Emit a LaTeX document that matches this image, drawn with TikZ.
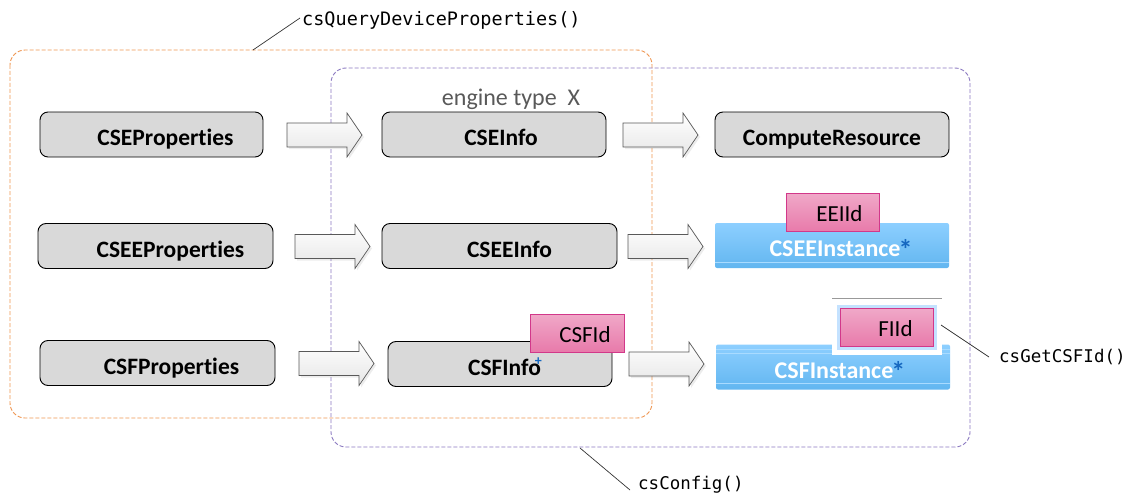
\documentclass[tikz,border=0pt]{standalone}
\usepackage{fontspec}
\setmainfont{Carlito}[RawFeature={-liga;-dlig;-clig}]
\setmonofont{DejaVu Sans Mono}
\usetikzlibrary{shadows}
\definecolor{boxgray}{HTML}{D9D9D9}
\definecolor{orangedash}{HTML}{EE9550}
\definecolor{purpledash}{HTML}{8A78C0}
\definecolor{bluetop}{HTML}{8DCFFF}
\definecolor{bluebot}{HTML}{62B6F0}
\definecolor{blueline}{HTML}{A9DBFF}
\definecolor{astblue}{HTML}{1668C0}
\definecolor{pinktop}{HTML}{F0A8C8}
\definecolor{pinkbot}{HTML}{E87AAA}
\definecolor{pinkborder}{HTML}{D2388A}
\definecolor{glow}{HTML}{C4E2FF}
\newcommand{\blockarrow}[2]{% #1 = left x, #2 = centre y
  \draw[blockarrowstyle] (#1,#2-12) -- ++(60,0) -- ++(0,-10) -- ++(15,22) -- ++(-15,22) -- ++(0,-10) -- ++(-60,0) -- cycle;}
\newcommand{\bluestar}{\kern-2pt\raisebox{-3pt}{\textcolor{astblue}{\fontsize{28}{28}\selectfont\bfseries *}}}
\begin{document}
\begin{tikzpicture}[x=1pt,y=-1pt,
  graybox/.style={draw=black, line width=0.9pt, rounded corners=8pt, fill=boxgray,
    font=\fontsize{23.5}{26}\selectfont\bfseries, minimum height=45pt, inner sep=0pt,
    text height=22pt, text depth=0pt},
  bluebox/.style={rounded corners=2pt, top color=bluetop, bottom color=bluebot,
    text=white, font=\fontsize{24}{26}\selectfont\bfseries, minimum height=45pt, inner sep=0pt,
    text height=22pt, text depth=0pt},
  pinkbox/.style={draw=pinkborder, line width=0.9pt, top color=pinktop, bottom color=pinkbot,
    font=\fontsize{23}{26}\selectfont, minimum height=38pt, inner sep=0pt,
    text height=18pt, text depth=0pt},
  blockarrowstyle/.style={draw=black!65, line width=0.7pt, top color=white, bottom color=black!10,
    drop shadow={opacity=0.15, shadow xshift=2pt, shadow yshift=-2pt}},
  groupbox/.style={dash pattern=on 4pt off 2pt, line width=0.9pt, rounded corners=15pt},
  apilabel/.style={font=\ttfamily\fontsize{17.5}{22}\selectfont, anchor=west, inner sep=0pt},
  callout/.style={draw=black!80, line width=0.7pt}
]
\useasboundingbox (0,0) rectangle (1128,495);

% group frames
\draw[groupbox, draw=orangedash] (10,50) rectangle (652,418);
\draw[groupbox, draw=purpledash] (331,68) rectangle (970,447);

\node[font=\fontsize{24}{26}\selectfont, text=black!65, inner sep=0pt] (etype) at (511,99) {engine type\ \ X};

% row 1
\node[graybox, minimum width=223pt] (cseprop) at (151.5,134.5) {\hspace*{28pt}CSEProperties};
\blockarrow{287}{135}
\node[graybox, minimum width=224pt] (cseinfo) at (494,134.5) {\hspace*{14pt}CSEInfo};
\blockarrow{623}{135}
\node[graybox, minimum width=234pt] (compres) at (832,134.5) {ComputeResource};

% row 2
\node[graybox, minimum width=235pt] (cseeprop) at (155.5,246) {\hspace*{30pt}CSEEProperties};
\blockarrow{295}{246.5}
\node[graybox, minimum width=235pt] (cseeinfo) at (499.5,246) {\hspace*{20pt}CSEEInfo};
\blockarrow{628}{246.5}
\node[bluebox, minimum width=234pt] (cseeinst) at (832,245.5) {\hspace*{18pt}CSEEInstance\bluestar};
\draw[blueline, line width=0.6pt] (cseeinst.south west) ++(0,-6) -- ++(234,0);
\node[pinkbox, minimum width=93pt] (eeiid) at (832.5,212.5) {\hspace*{14pt}EEIId};

% row 3
\node[graybox, minimum width=235pt] (csfprop) at (157.5,363) {\hspace*{28pt}CSFProperties};
\blockarrow{299}{363.5}
\node[graybox, minimum width=224pt] (csfinfo) at (500,364) {\hspace*{10pt}CSFInfo\kern-6pt\raisebox{10pt}{\textcolor{astblue}{\fontsize{14}{14}\selectfont\bfseries +}}};
\node[pinkbox, minimum width=94pt] (csfid) at (577,333) {\hspace*{16pt}CSFId};
\blockarrow{629}{364}
\node[bluebox, minimum width=234pt] (csfinst) at (833,367) {\hspace*{14pt}CSFInstance\bluestar};
\draw[blueline, line width=0.6pt] (csfinst.north west) ++(0,5) -- ++(234,0);
\draw[blueline, line width=0.6pt] (csfinst.north west) ++(0,9) -- ++(234,0);
\draw[blueline, line width=0.6pt] (csfinst.south west) ++(0,-6) -- ++(234,0);
\fill[white] (832,300) rectangle (942,355);
\draw[black!40, line width=0.6pt] (832,298) -- (942,298);
\node[pinkbox, minimum width=93pt, preaction={draw=glow, line width=7pt}] (fiid) at (886.5,327.5) {\hspace*{18pt}FIId};

% API labels and callouts
\node[apilabel, font=\ttfamily\fontsize{18.5}{22}\selectfont] (lquery) at (302,20) {csQueryDeviceProperties()};
\coordinate (oq) at (253,50);
\draw[callout] (oq) -- ([xshift=-2pt,yshift=2pt]lquery.west);
\node[apilabel] (lget) at (999,357) {csGetCSFId()};
\coordinate (og) at (941,325);
\draw[callout] (og) -- ([xshift=-10pt]lget.west);
\node[apilabel] (lconf) at (638,485) {csConfig()};
\coordinate (oc) at (580,448);
\draw[callout] (oc) -- ([xshift=-8pt,yshift=-5pt]lconf.west);
\end{tikzpicture}
\end{document}
